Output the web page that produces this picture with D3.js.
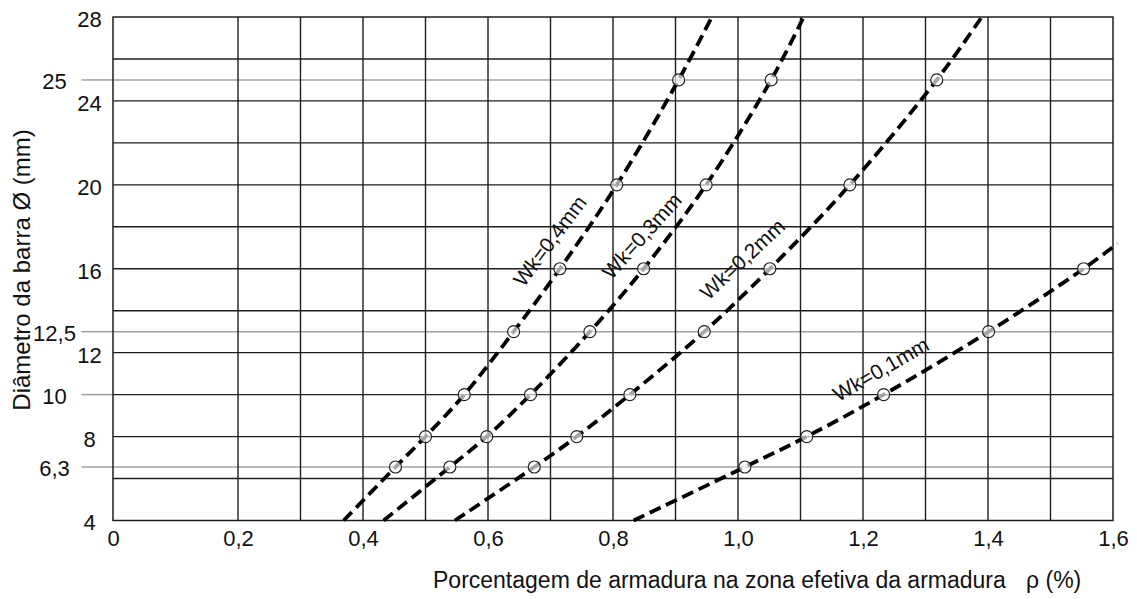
<!DOCTYPE html>
<html>
<head>
<meta charset="utf-8">
<script src="https://cdn.jsdelivr.net/npm/d3@7"></script>
<style>
  html, body { margin: 0; padding: 0; background: #fff; }
  svg { display: block; font-family: "Liberation Sans", Arial, sans-serif; }
</style>
</head>
<body>
<svg id="chart" width="1137" height="599"></svg>
<script>
// Bar diameter (mm) against effective reinforcement ratio rho (%), one curve per crack width.
const diameters = [6.3, 8, 10, 12.5, 16, 20, 25];
const rhoWk04 = [0.452, 0.500, 0.562, 0.641, 0.715, 0.806, 0.905];
const rhoWk03 = [0.539, 0.598, 0.668, 0.763, 0.849, 0.949, 1.053];
const rhoWk02 = [0.674, 0.742, 0.827, 0.946, 1.051, 1.179, 1.318];
const rhoWk01 = [1.011, 1.110, 1.233, 1.401, 1.553];

// Where each dashed curve enters and leaves the frame.
const curveStartRho = [0.369, 0.433, 0.547, 0.833];   // at diameter 4
const curveEndRho   = [0.958, 1.105, 1.390, 1.607];
const curveEndDiam  = [28, 28, 28, 17.2];

const wkLabels = ["Wk=0,4mm", "Wk=0,3mm", "Wk=0,2mm", "Wk=0,1mm"];

// Axis ticks and rulings
const rhoTicks = [0, 0.2, 0.4, 0.6, 0.8, 1.0, 1.2, 1.4, 1.6];
const rhoTickLabels = ["0", "0,2", "0,4", "0,6", "0,8", "1,0", "1,2", "1,4", "1,6"];
const rhoRules = [0.2, 0.3, 0.4, 0.5, 0.6, 0.7, 0.8, 0.9, 1.0, 1.1, 1.2, 1.3, 1.4, 1.5];
const diamRules = [6, 8, 10, 12, 14, 16, 18, 20, 22, 24, 26];
const diamTicks = [4, 8, 12, 16, 20, 24, 28];
const diamTickLabels = ["4", "8", "12", "16", "20", "24", "28"];
const gaugeTicks = [6.3, 10, 12.5, 25];
const gaugeTickLabels = ["6,3", "10", "12,5", "25"];
const gaugeRules = [6.3, 12.5, 25];

const svg = d3.select("#chart");
const plotLeft = 113, plotRight = 1113, plotTop = 17, plotBottom = 520.5;

const x = d3.scaleLinear().domain([0, 1.6]).range([plotLeft, plotRight]);
// Evenly ruled diameter axis; the 6.3 and 12.5 gauge rows are ruled at the
// printed gauge spacing rather than strictly to scale.
const yRuled = d3.scaleLinear().domain([4, 28]).range([plotBottom, plotTop]);
const y = d3.scaleLinear()
  .domain([4, 6, 6.3, 8, 12, 12.5, 14, 28])
  .range([4, 6, 6.55, 8, 12, 13, 14, 28].map(yRuled));

const grid = svg.append("g");

// grey gauge rows, with stubs reaching the outer label column
grid.append("g").selectAll("line").data(gaugeRules).join("line")
  .attr("x1", plotLeft).attr("x2", plotRight)
  .attr("y1", d => y(d)).attr("y2", d => y(d))
  .attr("stroke", "#a0a0a0").attr("stroke-width", 1.5);
grid.append("g").selectAll("line").data(gaugeTicks).join("line")
  .attr("x1", 81.5).attr("x2", plotLeft)
  .attr("y1", d => y(d)).attr("y2", d => y(d))
  .attr("stroke", "#a0a0a0").attr("stroke-width", 1.5);

// black rulings
grid.append("g").selectAll("line").data(diamRules).join("line")
  .attr("x1", plotLeft).attr("x2", plotRight)
  .attr("y1", d => y(d)).attr("y2", d => y(d))
  .attr("stroke", "#1e1e1e").attr("stroke-width", 1.4);
grid.append("g").selectAll("line").data(rhoRules).join("line")
  .attr("x1", d => x(d)).attr("x2", d => x(d))
  .attr("y1", plotTop).attr("y2", plotBottom)
  .attr("stroke", "#1e1e1e").attr("stroke-width", 1.4);
grid.append("rect")
  .attr("x", plotLeft).attr("y", plotTop)
  .attr("width", plotRight - plotLeft).attr("height", plotBottom - plotTop)
  .attr("fill", "none").attr("stroke", "#1e1e1e").attr("stroke-width", 1.5);

// curves
const seriesRho = [rhoWk04, rhoWk03, rhoWk02, rhoWk01];
const series = seriesRho.map((rhos, i) => {
  const pts = rhos.map((r, j) => ({ rho: r, d: diameters[j] }));
  return {
    label: wkLabels[i],
    points: pts,
    path: [{ rho: curveStartRho[i], d: 4 }, ...pts, { rho: curveEndRho[i], d: curveEndDiam[i] }]
  };
});

const line = d3.line()
  .x(p => x(p.rho)).y(p => y(p.d))
  .curve(d3.curveCatmullRom.alpha(0.5));

svg.append("g").selectAll("path").data(series).join("path")
  .attr("d", s => line(s.path))
  .attr("fill", "none").attr("stroke", "#000")
  .attr("stroke-width", 3.8).attr("stroke-dasharray", "12,6");

svg.append("g").selectAll("circle").data(series.flatMap(s => s.points)).join("circle")
  .attr("cx", p => x(p.rho)).attr("cy", p => y(p.d)).attr("r", 6)
  .attr("fill", "rgba(255,255,255,0.65)").attr("stroke", "#222").attr("stroke-width", 1.2);

// curve labels
const labelPlace = [
  { rho: 0.699, d: 17.33, angle: -53 },
  { rho: 0.846, d: 17.57, angle: -48 },
  { rho: 1.007, d: 16.46, angle: -43 },
  { rho: 1.2285, d: 11.21, angle: -30 }
];
svg.append("g").selectAll("text").data(series).join("text")
  .attr("transform", (s, i) => `translate(${x(labelPlace[i].rho)},${y(labelPlace[i].d)}) rotate(${labelPlace[i].angle})`)
  .attr("text-anchor", "middle").attr("dy", "0.35em")
  .attr("font-size", 21).attr("fill", "#111")
  .text(s => s.label);

// x tick labels
const xAxis = d3.axisBottom(x)
  .tickValues(rhoTicks)
  .tickFormat((d, i) => rhoTickLabels[i])
  .tickSize(0).tickPadding(10);
const gx = svg.append("g").attr("transform", `translate(0,${plotBottom})`).call(xAxis);
gx.select(".domain").remove();
gx.attr("font-size", null).attr("font-family", null);
gx.selectAll("text").attr("font-size", 22).attr("fill", "#111");

// y tick labels, two columns
svg.append("g").selectAll("text").data(diamTicks).join("text")
  .attr("x", 89.5).attr("y", d => y(d) + 2).attr("dy", "0.36em")
  .attr("text-anchor", "middle").attr("font-size", 22).attr("fill", "#111")
  .text((d, i) => diamTickLabels[i]);
svg.append("g").selectAll("text").data(gaugeTicks).join("text")
  .attr("x", 54.5).attr("y", d => y(d) + 1.5).attr("dy", "0.36em")
  .attr("text-anchor", "middle").attr("font-size", 22).attr("fill", "#111")
  .text((d, i) => gaugeTickLabels[i]);

// axis titles
svg.append("text")
  .attr("transform", "translate(30,270) rotate(-90)")
  .attr("text-anchor", "middle").attr("font-size", 24).attr("fill", "#111")
  .text("Diâmetro da barra Ø (mm)");

const xt = svg.append("text").attr("y", 588).attr("font-size", 23).attr("fill", "#111");
xt.append("tspan").attr("x", 433).text("Porcentagem de armadura na zona efetiva da armadura");
xt.append("tspan").attr("x", 1026).text("ρ (%)");
</script>
</body>
</html>
